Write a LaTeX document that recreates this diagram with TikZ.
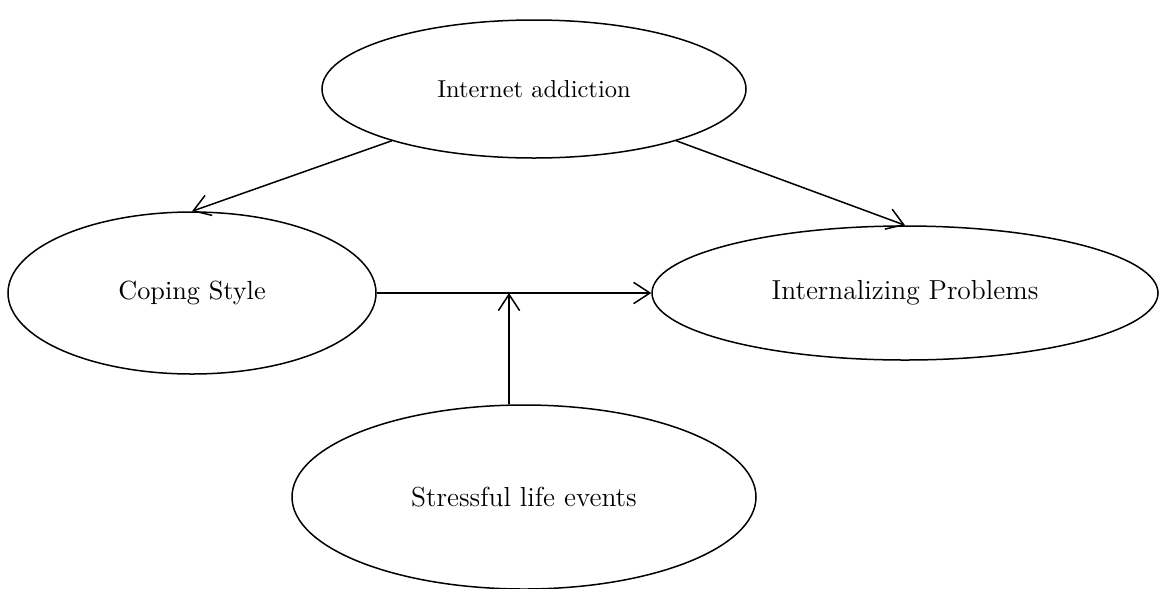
\documentclass[tikz,border=0pt]{standalone}
\usetikzlibrary{shapes.geometric,arrows.meta}
\tikzset{
	oval/.style={draw, ellipse, line width=0.6pt, inner sep=0pt, font=\fontsize{10.5}{12}\selectfont},
}
\begin{document}
\begin{tikzpicture}[x=0.4pt, y=-0.4pt, line width=0.6pt, >={Straight Barb[length=6.5pt,width=8.5pt]}]
		\useasboundingbox (0,0) rectangle (1159,588);
		\node[oval, minimum width=169.6pt, minimum height=55.2pt, font=\fontsize{9.8}{11}\selectfont] (ia) at (534,89) {Internet addiction};
		\node[oval, minimum width=147.2pt, minimum height=64.8pt] (cs) at (192,293) {Coping Style};
		\node[oval, minimum width=202.4pt, minimum height=53.6pt, font=\fontsize{11}{13}\selectfont] (ip) at (905,293) {Internalizing Problems};
		\node[oval, minimum width=185.6pt, minimum height=73.6pt, font=\fontsize{11}{13}\selectfont] (se) at (524,497) {Stressful life events};
		\coordinate (join) at (509,293);
		\draw[->] (ia.200) -- (cs.north);
		\draw[->] (ia.-20) -- (ip.north);
		\draw[->] (cs.east) -- (ip.west);
		\draw[->] (join |- se.north) -- (join);
	\end{tikzpicture}
\end{document}
